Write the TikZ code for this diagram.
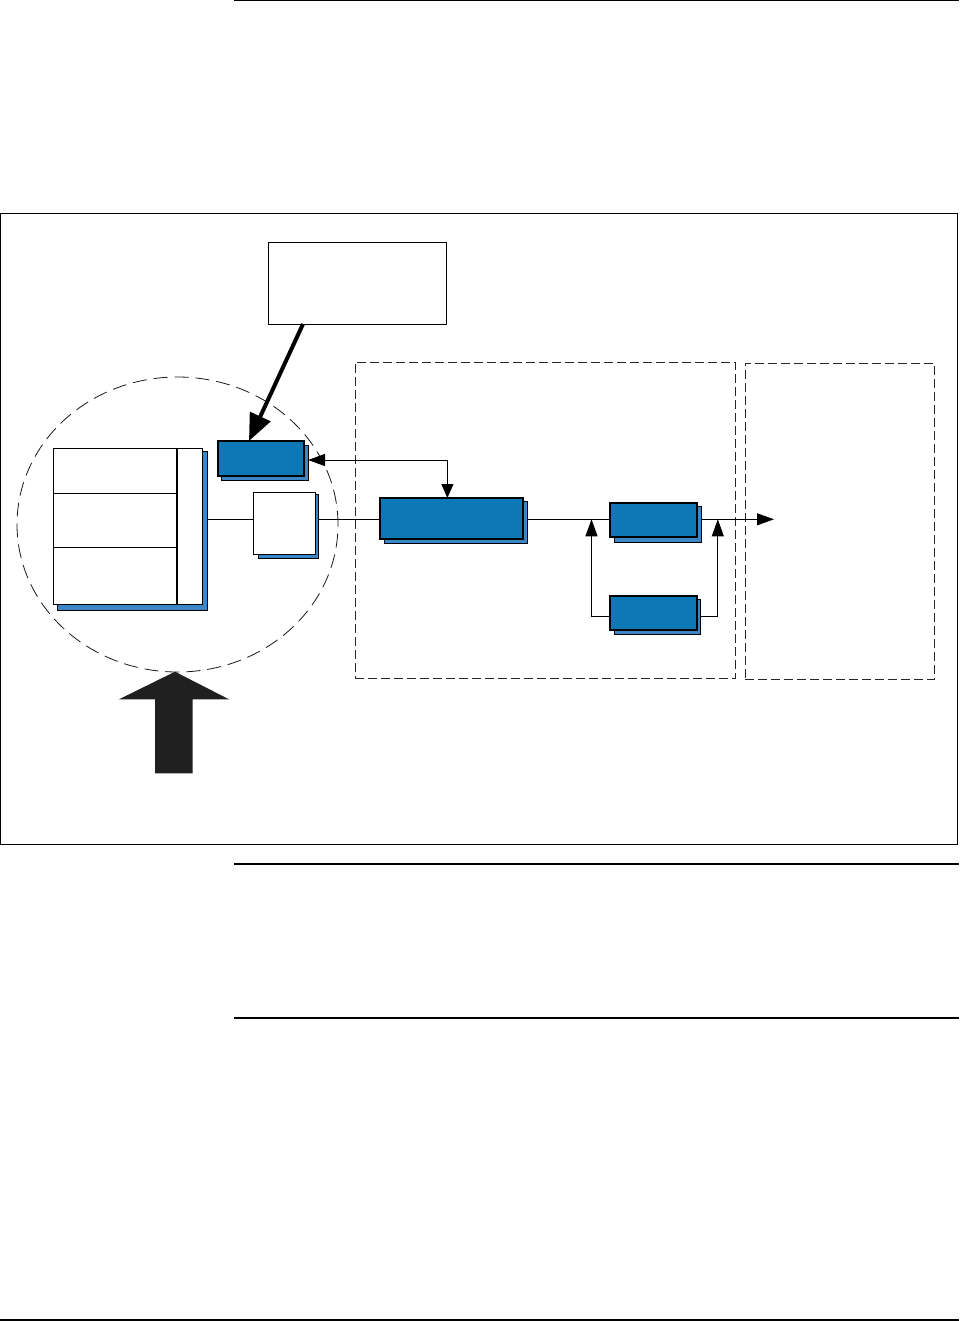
\documentclass[tikz,border=0pt]{standalone}
\usetikzlibrary{arrows.meta,shapes.geometric}
\definecolor{bfront}{RGB}{12,121,182}
\definecolor{bshadow}{RGB}{58,134,198}
\definecolor{darkarrow}{RGB}{32,32,32}
\begin{document}
\begin{tikzpicture}[x=1pt,y=-1pt,
  frontbox/.style={draw=black, line width=1.2pt, fill=bfront, anchor=north west, inner sep=0pt, outer sep=0pt},
  shadowbox/.style={draw=black, line width=1pt, fill=bshadow, anchor=north west, inner sep=0pt, outer sep=0pt},
  whitebox/.style={draw=black, line width=1pt, fill=white, anchor=north west, inner sep=0pt, outer sep=0pt},
  dashbox/.style={draw=black!85, dash pattern=on 9pt off 4pt, line width=0.9pt, anchor=north west, inner sep=0pt, outer sep=0pt},
  conn/.style={line width=0.9pt},
  tipend/.style={-{Triangle[length=17pt,width=12pt]}},
  tipboth/.style={{Triangle[length=17pt,width=12pt]}-{Triangle[length=14pt,width=12pt]}},
  rule/.style={line width=1.5pt},
]
\useasboundingbox (0,0) rectangle (959,1321);

% page rules
\draw[rule] (234,0.75) -- (959,0.75);
\draw[rule] (234,864) -- (959,864);
\draw[rule] (234,1018) -- (959,1018);
\draw[rule] (0,1320) -- (959,1320);

% outer frame
\draw[line width=1pt] (0.5,213.3) rectangle (957.3,844);

% dashed regions
\node[dashbox, minimum width=380.6pt, minimum height=316pt] (regA) at (355,362) {};
\node[dashbox, minimum width=189.2pt, minimum height=316.3pt] (regB) at (745.4,363) {};

% dashed ellipse
\node[ellipse, draw=black!90, dash pattern=on 14pt off 7pt, line width=0.8pt,
      minimum width=321pt, minimum height=295pt, inner sep=0pt] (zone) at (177.5,524.5) {};

% note box
\node[whitebox, minimum width=178pt, minimum height=81pt] (note) at (268,243) {};

% left big box
\node[shadowbox, minimum width=150pt, minimum height=159pt] (memS) at (57,451) {};
\node[whitebox, minimum width=149pt, minimum height=156pt] (mem) at (53,448) {};
\draw[line width=1.2pt] (177,448) -- (177,604);
\draw[line width=0.9pt] (53,493) -- (177,493);
\draw[line width=0.9pt] (53,547) -- (177,547);

% small blue box
\node[shadowbox, minimum width=87pt, minimum height=35pt] (bsmS) at (221,445) {};
\node[frontbox, minimum width=86pt, minimum height=35pt] (bsm) at (218,441) {};

% small white box
\node[shadowbox, minimum width=60pt, minimum height=64pt] (wboxS) at (258,494) {};
\node[whitebox, minimum width=62pt, minimum height=62pt] (wbox) at (253,492) {};

% big blue box
\node[shadowbox, minimum width=143pt, minimum height=42pt] (bigS) at (384,501) {};
\node[frontbox, minimum width=143pt, minimum height=41pt] (big) at (380,498) {};

% blue box 2
\node[shadowbox, minimum width=87pt, minimum height=36pt] (btwoS) at (614,506) {};
\node[frontbox, minimum width=87pt, minimum height=34pt] (btwo) at (610,503) {};

% blue box 3
\node[shadowbox, minimum width=86pt, minimum height=35pt] (bthrS) at (614,599) {};
\node[frontbox, minimum width=87pt, minimum height=34pt] (bthr) at (610,596) {};

% reference coordinates
\coordinate (mainY) at (0,519.3);
\coordinate (corner) at (447.4,460);
\coordinate (fbL) at (591.5,519.3);
\coordinate (fbR) at (717.8,519.3);
\coordinate (outEnd) at (774,519.3);

% connectors
\draw[conn] (memS.east |- mainY) -- (wbox.west |- mainY);
\draw[conn] (wboxS.east |- mainY) -- (big.west |- mainY);
\draw[conn] (bigS.east |- mainY) -- (btwo.west |- mainY);
\draw[conn, tipend] (btwoS.east |- mainY) -- (outEnd);
\draw[conn, tipend] (bthr.west |- 0,616) -| (fbL);
\draw[conn, tipend] (bthrS.east |- 0,616.5) -| (fbR);
\draw[conn, tipboth] (bsmS.east |- corner) -- (corner) -- (corner |- big.north);

% thick arrow from note
\draw[line width=4pt, -{Triangle[length=27pt,width=22pt]}] (note.south -| 303,0) -- (bsm.north -| 249,0);

% block arrow
\fill[darkarrow] (175,671.7) -- (229,699.3) -- (192.7,699.3) -- (192.7,773.3)
  -- (155,773.3) -- (155,699.3) -- (119,699.3) -- cycle;
\end{tikzpicture}
\end{document}
